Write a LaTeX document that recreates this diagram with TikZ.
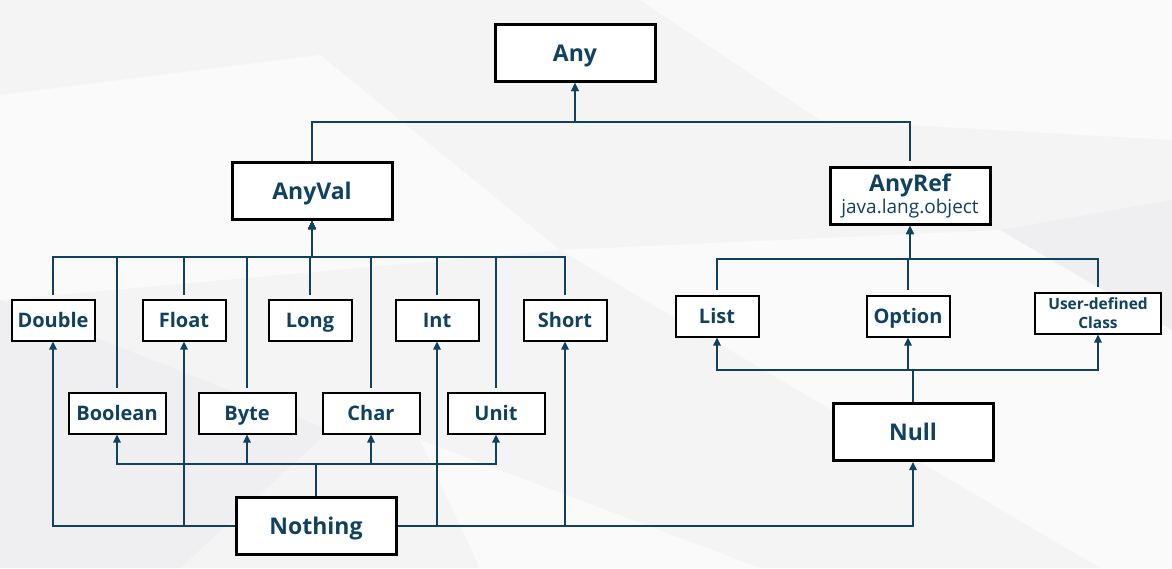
\documentclass[tikz,border=0pt]{standalone}
\usepackage{fontspec}
\setmainfont{Open Sans}
\usetikzlibrary{arrows.meta}
\definecolor{inkblue}{RGB}{16,66,96}
\definecolor{paleA}{RGB}{244,244,245}
\definecolor{paleB}{RGB}{250,250,250}
\definecolor{paleC}{RGB}{239,239,241}
\begin{document}
\begin{tikzpicture}[x=1pt,y=-1pt,
  bigframe/.style={draw=black,line width=3pt,fill=white,inner sep=0pt,minimum width=160pt,minimum height=57pt,text=inkblue,font=\bfseries\fontsize{23}{26}\selectfont},
  bigbox/.style={bigframe,text height=17pt,text depth=0.5pt},
  typebox/.style={draw=black,line width=2pt,fill=white,inner sep=0pt,minimum width=83pt,minimum height=41pt,text=inkblue,font=\bfseries\fontsize{20}{23}\selectfont,text height=14pt,text depth=0pt},
  widebox/.style={typebox,minimum width=97pt},
  link/.style={draw=inkblue,line width=1.6pt},
  arr/.style={link,-{Triangle[length=8pt,width=7.5pt]}}]
\path[use as bounding box] (0,0) rectangle (1172,568);
% background
\fill[paleA] (0,0) rectangle (1172,568);
\fill[paleB] (0,95) -- (320,55) -- (560,250) -- (0,300) -- cycle;
\fill[paleB] (640,0) -- (1172,0) -- (1172,140) -- (820,120) -- cycle;
\fill[paleB] (560,250) -- (1000,230) -- (1172,330) -- (1172,568) -- (1100,568) -- cycle;
\fill[paleC] (0,300) -- (330,430) -- (180,568) -- (0,568) -- cycle;
\fill[paleB] (420,440) -- (760,568) -- (480,568) -- cycle;
\fill[paleC] (1000,230) -- (1172,200) -- (1172,330) -- cycle;
% nodes
\node[bigbox] (Any) at (575,53) {Any};
\node[bigbox] (AnyVal) at (312,191) {AnyVal};
\node[bigframe,align=center] (AnyRef) at (910,196) {AnyRef\\[-4pt]{\mdseries\fontsize{19}{21}\selectfont java.lang.object}};
\node[typebox] (Double) at (53,320) {Double};
\node[typebox] (Float) at (184,320) {Float};
\node[typebox] (Long) at (310,320) {Long};
\node[typebox] (Int) at (437,320) {Int};
\node[typebox] (Short) at (565,320) {Short};
\node[widebox] (Boolean) at (117,413) {Boolean};
\node[widebox] (Byte) at (247,413) {Byte};
\node[widebox] (Char) at (371,413) {Char};
\node[widebox] (Unit) at (496,413) {Unit};
\node[bigbox] (Nothing) at (316,526) {Nothing};
\node[typebox] (List) at (717,316) {List};
\node[typebox] (Option) at (908,316) {Option};
\node[typebox,minimum width=126pt,align=center,text height=,text depth=,font=\bfseries\fontsize{15.5}{19}\selectfont] (UserClass) at (1098,313) {User-defined\\Class};
\node[bigbox] (Null) at (913,432) {Null};
% buses
\coordinate (topbus) at (575,122);
\coordinate (valbus) at (312,257);
\coordinate (refbus) at (910,259);
\coordinate (nothbus) at (316,464);
\coordinate (nullbus) at (913,370);
% Any
\draw[arr] (AnyVal.north) |- (topbus) -- (Any.south);
\draw[arr,shorten <=5pt] (AnyRef.north) |- (topbus) -- (Any.south);
% AnyVal
\foreach \t in {Double,Float,Long,Int,Short,Boolean,Byte,Char,Unit}
  \draw[arr,shorten <=4pt] (\t.north) |- (valbus) -- (AnyVal.south);
% AnyRef
\foreach \t in {List,Option,UserClass}
  \draw[arr,shorten <=5pt] (\t.north) |- (refbus) -- (AnyRef.south);
% Nothing
\foreach \t in {Boolean,Byte,Char,Unit}
  \draw[arr] (Nothing.north) |- (nothbus) -| (\t.south);
\foreach \t in {Double,Float}
  \draw[arr] (Nothing.west) -| (\t.south);
\foreach \t in {Int,Short,Null}
  \draw[arr] (Nothing.east) -| (\t.south);
% Null
\foreach \t in {List,Option,UserClass}
  \draw[arr] (Null.north) |- (nullbus) -| (\t.south);
\end{tikzpicture}
\end{document}
